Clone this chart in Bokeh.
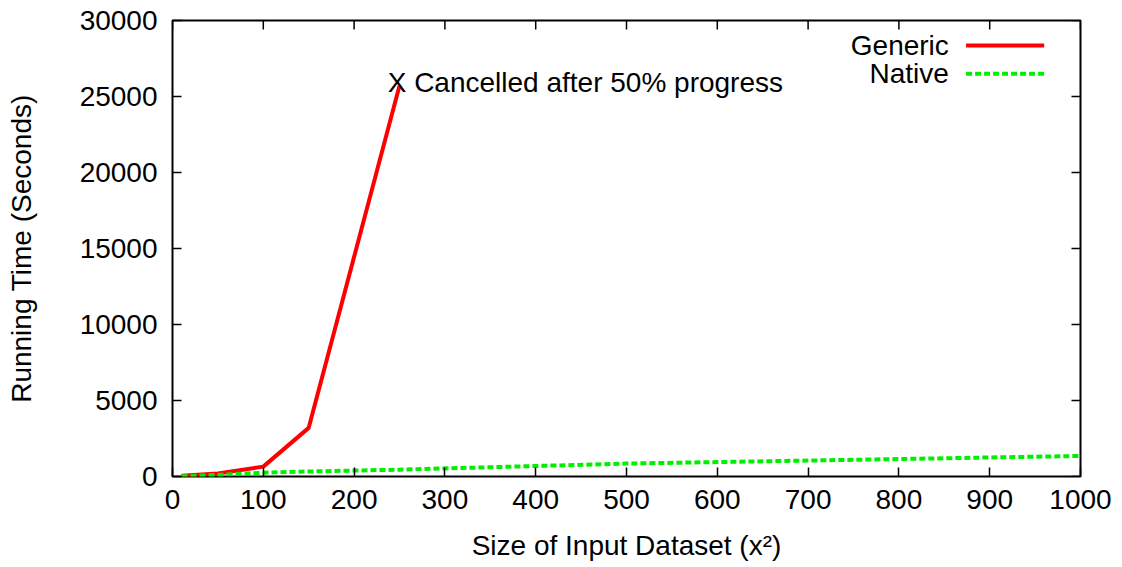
from bokeh.plotting import figure
from bokeh.models import FixedTicker, Label, Range1d
from bokeh.embed import file_html
from bokeh.resources import INLINE

# ---- data ----
generic_x = [10, 50, 100, 150, 250]
generic_y = [50, 200, 650, 3200, 25700]
native_x = [10, 50, 100, 150, 250, 500, 1000]
native_y = [20, 100, 250, 330, 450, 850, 1350]
x_ticks = [0, 100, 200, 300, 400, 500, 600, 700, 800, 900, 1000]
y_ticks = [0, 5000, 10000, 15000, 20000, 25000, 30000]
series_names = ["Generic", "Native"]
note_text = "X Cancelled after 50% progress"
note_pos = (237, 25950)

FONT = "Liberation Sans"
FS = "28px"
RED = "#ff0000"
GREEN = "#00ee00"
X0, X1, Y0, Y1 = 0, 1000, 0, 30000

p = figure(width=1122, height=567, output_backend="svg", toolbar_location=None,
           x_range=Range1d(X0, X1), y_range=Range1d(Y0, Y1),
           min_border_left=172, min_border_right=42, min_border_top=20, min_border_bottom=91)
p.grid.visible = False
p.outline_line_color = "black"
p.outline_line_width = 2
p.background_fill_color = "white"
p.border_fill_color = "white"

p.xaxis.ticker = FixedTicker(ticks=x_ticks)
p.yaxis.ticker = FixedTicker(ticks=y_ticks)

for ax in p.axis:
    ax.axis_line_color = None
    ax.major_tick_in = 9
    ax.major_tick_out = 0
    ax.major_tick_line_color = "black"
    ax.major_tick_line_width = 1.5
    ax.minor_tick_line_color = None
    ax.major_label_text_font = FONT
    ax.major_label_text_font_size = FS
    ax.major_label_text_color = "black"
    ax.axis_label_text_font = FONT
    ax.axis_label_text_font_size = FS
    ax.axis_label_text_font_style = "normal"
    ax.axis_label_text_color = "black"

p.xaxis.axis_label = "Size of Input Dataset (x²)"
p.xaxis.major_label_standoff = 13
p.xaxis.axis_label_standoff = 18

p.yaxis.axis_label = "Running Time (Seconds)"
p.yaxis.major_label_standoff = 15
p.yaxis.axis_label_standoff = 40

# mirrored inward ticks on the top and right borders (gnuplot style)
tick_dy = (Y1 - Y0) * 9 / 456
tick_dx = (X1 - X0) * 9 / 908
p.segment(x0=x_ticks, y0=[Y1] * len(x_ticks), x1=x_ticks, y1=[Y1 - tick_dy] * len(x_ticks),
          line_color="black", line_width=1.5)
p.segment(x0=[X1] * len(y_ticks), y0=y_ticks, x1=[X1 - tick_dx] * len(y_ticks), y1=y_ticks,
          line_color="black", line_width=1.5)

p.line(generic_x, generic_y, line_color=RED, line_width=4)
p.line(native_x, native_y, line_color=GREEN, line_width=4, line_dash="6 3")

p.add_layout(Label(x=note_pos[0], y=note_pos[1], text=note_text, text_font=FONT,
                   text_font_size=FS, text_align="left", text_baseline="middle",
                   text_color="black"))

# ---- manual legend (gnuplot style: label left, sample right) ----
leg_y = [28350, 26500]
leg_colors = [RED, GREEN]
leg_dash = ["solid", "6 3"]
for name, yy, c, d in zip(series_names, leg_y, leg_colors, leg_dash):
    p.add_layout(Label(x=855, y=yy, text=name, text_font=FONT, text_font_size=FS,
                       text_align="right", text_baseline="middle", text_color="black"))
    p.line([874, 960], [yy, yy], line_color=c, line_width=4, line_dash=d)

open("out.html", "w").write(file_html(p, INLINE))
